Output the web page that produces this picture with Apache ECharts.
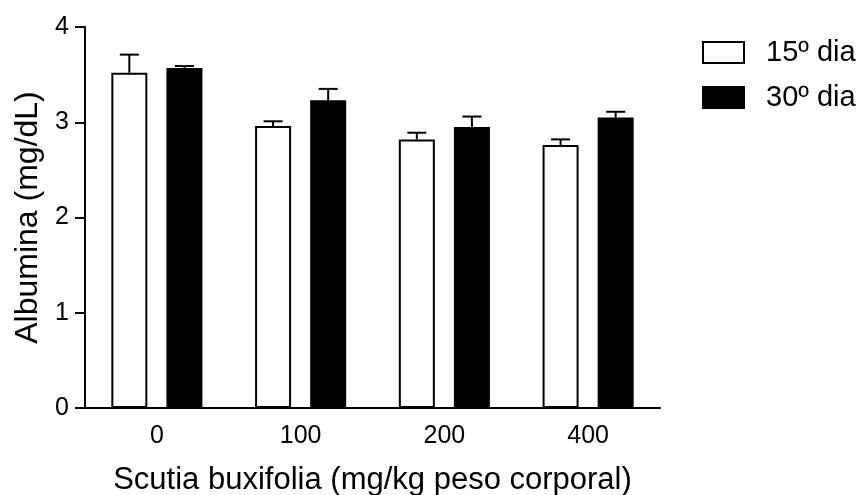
<!DOCTYPE html>
<html>
<head>
<meta charset="utf-8">
<script src="https://cdn.jsdelivr.net/npm/echarts@6/dist/echarts.min.js"></script>
<style>
html,body{margin:0;padding:0;background:#fff;}
#chart{width:864px;height:495px;}
</style>
</head>
<body>
<div id="chart"></div>
<script>
var categories = ['0', '100', '200', '400'];
var seriesNames = ['15º dia', '30º dia'];
var mean15 = [3.52, 2.96, 2.82, 2.76];
var err15 = [0.19, 0.05, 0.07, 0.06];
var mean30 = [3.57, 3.23, 2.95, 3.05];
var err30 = [0.02, 0.12, 0.11, 0.06];
var yTicks = [0, 1, 2, 3, 4];

var FONT = '"Liberation Sans", Arial, sans-serif';
var BAR_W = 36;
var BAR_GAP = 0.53;
var OFFSET = (BAR_W + BAR_W * BAR_GAP) / 2;

function errSeries(means, errs, sign) {
  return {
    type: 'custom',
    silent: true,
    z: 1,
    data: means.map(function (m, i) { return [i, m, errs[i]]; }),
    renderItem: function (params, api) {
      var i = api.value(0), m = api.value(1), e = api.value(2);
      var p0 = api.coord([i, m]);
      var p1 = api.coord([i, m + e]);
      var x = p0[0] + sign * OFFSET;
      var half = 9.5;
      return {
        type: 'group',
        children: [
          { type: 'line', shape: { x1: x, y1: p0[1], x2: x, y2: p1[1] }, style: { stroke: '#000', lineWidth: 2 } },
          { type: 'line', shape: { x1: x - half, y1: p1[1], x2: x + half, y2: p1[1] }, style: { stroke: '#000', lineWidth: 2 } }
        ]
      };
    }
  };
}

var chart = echarts.init(document.getElementById('chart'));
chart.setOption({
  animation: false,
  backgroundColor: '#fff',
  textStyle: { fontFamily: FONT, color: '#000' },
  grid: { left: 85, right: 204, top: 27, bottom: 87, containLabel: false, outerBoundsMode: 'none' },
  legend: {
    orient: 'vertical',
    left: 702,
    top: 38,
    padding: 0,
    itemWidth: 41,
    itemHeight: 21,
    itemGap: 16,
    icon: 'rect',
    data: seriesNames,
    textStyle: { fontFamily: FONT, fontSize: 29, color: '#000', padding: [0, 0, 0, 17] },
    selectedMode: false
  },
  xAxis: {
    type: 'category',
    data: categories,
    name: 'Scutia buxifolia (mg/kg peso corporal)',
    nameLocation: 'middle',
    nameGap: 57,
    nameTextStyle: { fontFamily: FONT, fontSize: 31, color: '#000' },
    axisLine: { lineStyle: { color: '#000', width: 2 } },
    axisTick: { alignWithLabel: true, length: 10, lineStyle: { color: '#000', width: 2 } },
    axisLabel: { fontFamily: FONT, fontSize: 25, color: '#000', margin: 16 },
    splitLine: { show: false }
  },
  yAxis: {
    type: 'value',
    min: yTicks[0],
    max: yTicks[yTicks.length - 1],
    interval: 1,
    name: 'Albumina (mg/dL)',
    nameLocation: 'middle',
    nameGap: 41,
    nameTextStyle: { fontFamily: FONT, fontSize: 32, color: '#000' },
    axisLine: { show: true, lineStyle: { color: '#000', width: 2 } },
    axisTick: { show: true, length: 10, lineStyle: { color: '#000', width: 2 } },
    axisLabel: { fontFamily: FONT, fontSize: 25, color: '#000', margin: 16 },
    splitLine: { show: false }
  },
  series: [
    {
      name: seriesNames[0],
      type: 'bar',
      data: mean15,
      barWidth: BAR_W,
      barGap: (BAR_GAP * 100) + '%',
      itemStyle: { color: '#fff', borderColor: '#000', borderWidth: 2 },
      z: 2
    },
    {
      name: seriesNames[1],
      type: 'bar',
      data: mean30,
      barWidth: BAR_W,
      barGap: (BAR_GAP * 100) + '%',
      itemStyle: { color: '#000', borderColor: '#000', borderWidth: 2 },
      z: 2
    },
    errSeries(mean15, err15, -1),
    errSeries(mean30, err30, 1)
  ]
});
</script>
</body>
</html>
